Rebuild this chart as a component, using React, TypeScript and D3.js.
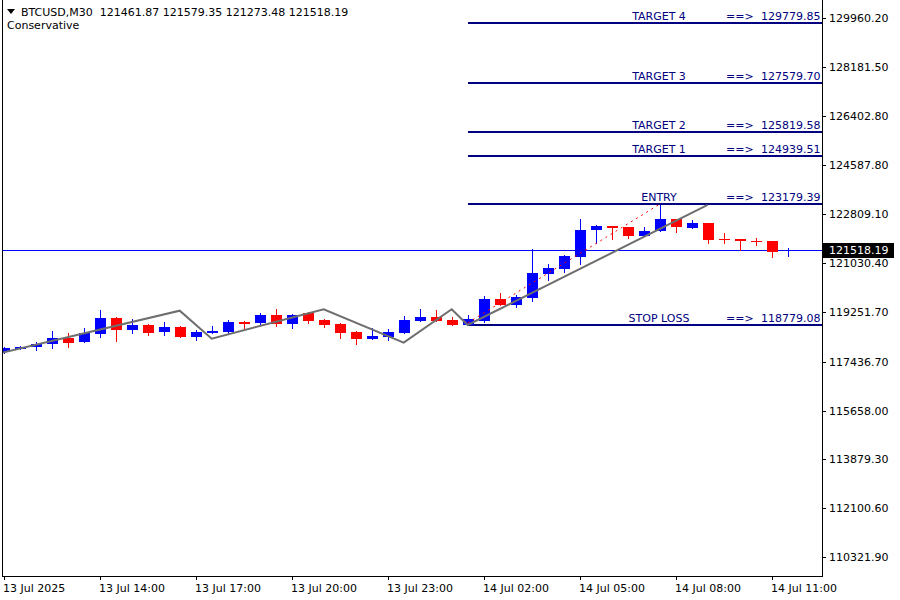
import React, { useEffect } from 'react';
import * as d3 from 'd3';

// bars M30, 13 Jul 11:00 -> 14 Jul 11:30
const opens = [117792.6, 117901.8, 117974.7, 118084.0, 118302.6, 118167.8, 118459.2, 119031.2, 118605.0, 118776.2, 118521.1, 118703.3, 118349.9, 118484.7, 118521.1, 118885.4, 118849.0, 119140.4, 118812.6, 119213.3, 118958.3, 118812.6, 118521.1, 118266.1, 118339.0, 118495.6, 118932.8, 119056.7, 118958.3, 118787.1, 118932.8, 119723.3, 119515.7, 119770.7, 120634.1, 120816.2, 121264.3, 122218.8, 122382.7, 122346.3, 122029.4, 122211.5, 122637.7, 122320.8, 122492.0, 121890.9, 121909.1, 121818.1, 121836.3, 121461.87];
const highs = [117974.7, 117993.0, 118138.6, 118557.6, 118484.7, 118666.9, 119322.6, 119078.5, 118994.7, 118794.4, 118885.4, 118739.7, 118594.0, 118739.7, 118958.3, 118932.8, 119213.3, 119359.0, 119176.9, 119249.7, 118976.5, 118830.8, 118539.4, 118666.9, 118630.4, 119104.0, 119359.0, 119322.6, 119067.6, 119140.4, 119832.6, 119941.9, 119869.1, 121544.8, 120998.4, 121326.2, 122637.7, 122400.9, 122393.6, 122357.2, 122335.4, 123136.8, 122648.7, 122601.3, 122502.9, 122116.8, 121920.1, 121956.5, 121847.2, 121579.35];
const lows = [117756.1, 117883.6, 117847.2, 117920.0, 117985.6, 118167.8, 118339.0, 118204.2, 118495.6, 118400.9, 118422.8, 118349.9, 118240.6, 118466.5, 118473.8, 118666.9, 118812.6, 118739.7, 118666.9, 118849.0, 118703.3, 118302.6, 118084.0, 118247.9, 118229.7, 118484.7, 118921.9, 118921.9, 118776.2, 118776.2, 118896.4, 119504.8, 119442.8, 119661.4, 120415.5, 120717.9, 121009.3, 121774.3, 121920.1, 121956.5, 122018.4, 122200.6, 122175.1, 122309.9, 121774.3, 121774.3, 121519.3, 121701.5, 121264.3, 121273.48];
const closes = [117938.3, 117974.7, 118084.0, 118302.6, 118131.3, 118473.8, 119031.2, 118605.0, 118776.2, 118495.6, 118703.3, 118349.9, 118521.1, 118557.6, 118885.4, 118812.6, 119140.4, 118812.6, 119140.4, 118921.9, 118776.2, 118484.7, 118266.1, 118375.4, 118521.1, 118958.3, 119056.7, 118932.8, 118787.1, 118983.8, 119723.3, 119515.7, 119796.2, 120670.5, 120852.7, 121289.8, 122237.0, 122382.7, 122320.8, 122029.4, 122189.6, 122637.7, 122335.4, 122492.0, 121883.6, 121876.3, 121836.3, 121803.5, 121446.5, 121518.19];

const timeTickIdx = [0, 6, 12, 18, 24, 30, 36, 42, 48];
const timeTickLabels = ['13 Jul 2025', '13 Jul 14:00', '13 Jul 17:00', '13 Jul 20:00', '13 Jul 23:00', '14 Jul 02:00', '14 Jul 05:00', '14 Jul 08:00', '14 Jul 11:00'];
const priceTicks = [129960.2, 128181.5, 126402.8, 124587.8, 122809.1, 121030.4, 119251.7, 117436.7, 115658.0, 113879.3, 112100.6, 110321.9];

const levelNames = ['TARGET 4', 'TARGET 3', 'TARGET 2', 'TARGET 1', 'ENTRY', 'STOP LOSS'];
const levelPrices = [129779.85, 127579.7, 125819.58, 124939.51, 123179.39, 118779.08];
const levelStartIdx = 29;

const zigIdx = [-0.23, 11, 13, 20, 25, 28, 29, 44];
const zigPrices = [117745, 119297, 118277, 119348, 118131, 119348, 118776, 123148];

const signalIdx = [29, 41];
const signalPrices = [118850, 123179.39];

const header = 'BTCUSD,M30  121461.87 121579.35 121273.48 121518.19';
const subHeader = 'Conservative';
const lastPrice = 121518.19;

const W = 900;
const H = 600;
const plot = { left: 2, right: 822, top: 0, bottom: 576 };
const FONT = '"DejaVu Sans", Tahoma, sans-serif';

export default function App() {
  useEffect(() => {
    document.body.style.margin = '0';
  }, []);

  const x = d3.scaleLinear().domain([0, 49]).range([3.7, 3.7 + 16 * 49]);
  const y = d3.scaleLinear().domain([110321.9, 129960.2]).range([557, 18]);
  const px = (i: number) => Math.round(x(i));
  const py = (v: number) => Math.round(y(v));

  const zigLine = d3.line<number>()
    .x((d, i) => x(zigIdx[i]))
    .y(d => y(d))(zigPrices) || '';
  const sigLine = d3.line<number>()
    .x((d, i) => x(signalIdx[i]))
    .y(d => y(d))(signalPrices) || '';

  return (
    <svg width={W} height={H} style={{ display: 'block', background: '#fff' }} fontFamily={FONT}>
      <defs>
        <clipPath id="plotClip">
          <rect x={plot.left + 1} y={plot.top} width={plot.right - plot.left - 1} height={plot.bottom - plot.top} />
        </clipPath>
      </defs>

      <g clipPath="url(#plotClip)">
        {/* current price line */}
        <line x1={plot.left} x2={plot.right} y1={py(lastPrice) + 0.5} y2={py(lastPrice) + 0.5} stroke="#0000ff" strokeWidth={1} />

        {/* level lines */}
        {levelPrices.map((p, i) => (
          <g key={levelNames[i]}>
            <line x1={px(levelStartIdx)} x2={plot.right} y1={py(p)} y2={py(p)} stroke="#000080" strokeWidth={2} shapeRendering="crispEdges" />
            <text x={659} y={py(p) - 3} fontSize={11} fill="#000080" textAnchor="middle">{levelNames[i]}</text>
            <text x={726} y={py(p) - 3} fontSize={11} fill="#000080">==&gt;</text>
            <text x={761} y={py(p) - 3} fontSize={11} fill="#000080">{d3.format('.2f')(p)}</text>
          </g>
        ))}

        {/* candles */}
        {opens.map((o, i) => {
          const c = closes[i];
          const col = c >= o ? '#0000ff' : '#ff0000';
          const cx = px(i);
          const top = py(Math.max(o, c));
          const bot = py(Math.min(o, c));
          return (
            <g key={i} shapeRendering="crispEdges">
              <line x1={cx + 0.5} x2={cx + 0.5} y1={py(highs[i])} y2={py(lows[i]) + 1} stroke={col} strokeWidth={1} />
              <rect x={cx - 5} y={top} width={11} height={Math.max(1, bot - top)} fill={col} />
            </g>
          );
        })}

        {/* zigzag */}
        <path d={zigLine} fill="none" stroke="#6e6e6e" strokeWidth={2} />
        {/* signal */}
        <path d={sigLine} fill="none" stroke="#ff0000" strokeWidth={1} strokeDasharray="2,4" />
      </g>

      {/* frame */}
      <g shapeRendering="crispEdges" stroke="#000" strokeWidth={1}>
        <line x1={plot.left + 0.5} x2={plot.left + 0.5} y1={0} y2={plot.bottom + 0.5} />
        <line x1={plot.right + 0.5} x2={plot.right + 0.5} y1={0} y2={plot.bottom + 0.5} />
        <line x1={plot.left} x2={plot.right + 1} y1={plot.bottom + 0.5} y2={plot.bottom + 0.5} />
      </g>

      {/* price axis */}
      {priceTicks.map(p => (
        <g key={p}>
          <line x1={plot.right} x2={plot.right + 4} y1={py(p) + 0.5} y2={py(p) + 0.5} stroke="#000" shapeRendering="crispEdges" />
          <text x={829} y={py(p) + 4} fontSize={11} fill="#000">{d3.format('.2f')(p)}</text>
        </g>
      ))}
      <rect x={plot.right + 1} y={py(lastPrice) - 7} width={71} height={15} fill="#000" />
      <text x={829} y={py(lastPrice) + 4} fontSize={11} fill="#fff">{d3.format('.2f')(lastPrice)}</text>

      {/* time axis */}
      {timeTickIdx.map((ti, k) => (
        <g key={ti}>
          <line x1={px(ti) + 0.5} x2={px(ti) + 0.5} y1={plot.bottom} y2={plot.bottom + 4} stroke="#000" shapeRendering="crispEdges" />
          <text x={px(ti) - 1} y={592} fontSize={11} fill="#000">{timeTickLabels[k]}</text>
        </g>
      ))}

      {/* header */}
      <path d="M7,9 L15,9 L11,14 Z" fill="#000" />
      <text x={21} y={16} fontSize={11} fill="#000" style={{ whiteSpace: 'pre' }}>{header}</text>
      <text x={7} y={29} fontSize={11} fill="#000">{subHeader}</text>
    </svg>
  );
}
